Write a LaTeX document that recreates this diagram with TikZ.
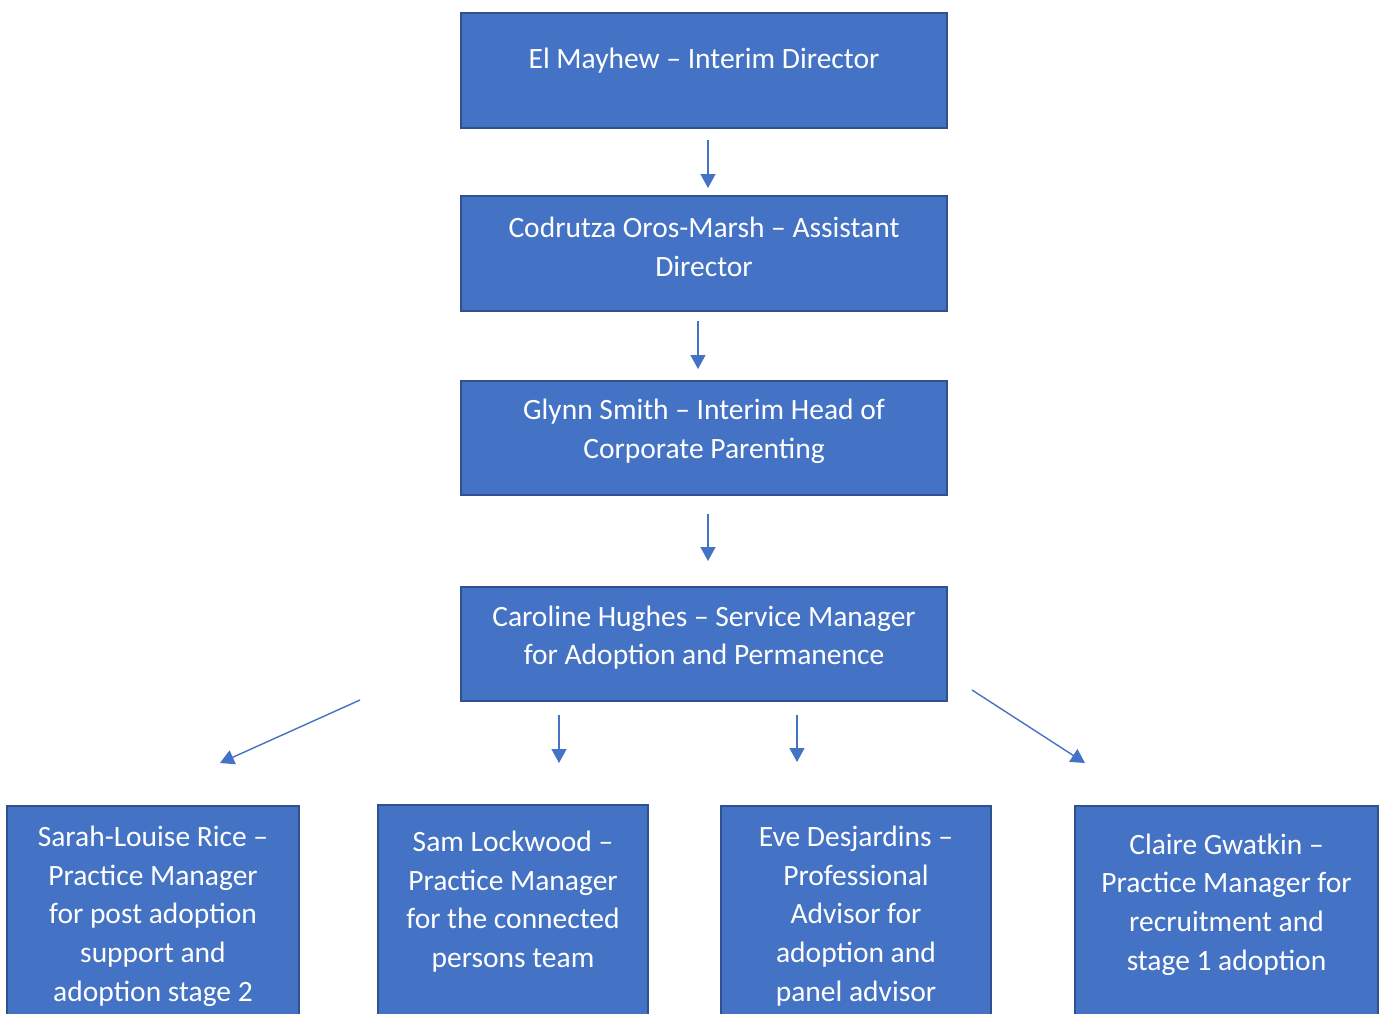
\documentclass[tikz,border=0pt]{standalone}
\usepackage{fontspec}
\setmainfont{Carlito}
\usetikzlibrary{arrows.meta}
\definecolor{boxfill}{HTML}{4472C4}
\definecolor{boxline}{HTML}{2F528F}
\tikzset{
  orgbox/.style={draw=boxline, line width=2pt, fill=boxfill, rectangle, inner sep=0pt},
  orgtext/.style={text=white, align=center, inner sep=0pt, font=\fontsize{29.5}{38.7}\selectfont},
  link/.style={draw=boxfill, line width=1.4pt, -{Triangle[length=14pt,width=15pt]}}
}
\begin{document}
\begin{tikzpicture}[x=1pt,y=-1pt]
\useasboundingbox (0,0) rectangle (1381,1013);
\clip (0,0) rectangle (1381,1013);
% boxes
\node[orgbox, minimum width=486pt, minimum height=115pt] (b1) at (704,70.5) {};
\node[orgbox, minimum width=486pt, minimum height=115pt] (b2) at (704,253.5) {};
\node[orgbox, minimum width=486pt, minimum height=114pt] (b3) at (704,438) {};
\node[orgbox, minimum width=486pt, minimum height=114pt] (b4) at (704,644) {};
\node[orgbox, minimum width=292pt, minimum height=230pt] (c1) at (153,921) {};
\node[orgbox, minimum width=270pt, minimum height=230pt] (c2) at (513,920) {};
\node[orgbox, minimum width=270pt, minimum height=230pt] (c3) at (856,921) {};
\node[orgbox, minimum width=303pt, minimum height=230pt] (c4) at (1226.5,921) {};
% texts
\node[orgtext] (t1) at (704,61) {El Mayhew -- Interim Director};
\node[orgtext] (t2) at (704,247) {Codrutza Oros-Marsh -- Assistant\\Director};
\node[orgtext] (t3) at (704,431) {Glynn Smith -- Interim Head of\\Corporate Parenting};
\node[orgtext] (t4) at (704,637.5) {Caroline Hughes -- Service Manager\\for Adoption and Permanence};
\node[orgtext] (u1) at (153,916) {Sarah-Louise Rice --\\Practice Manager\\for post adoption\\support and\\adoption stage 2};
\node[orgtext] (u2) at (513,901.5) {Sam Lockwood --\\Practice Manager\\for the connected\\persons team};
\node[orgtext] (u3) at (856,916) {Eve Desjardins --\\Professional\\Advisor for\\adoption and\\panel advisor};
\node[orgtext] (u4) at (1226.5,904.5) {Claire Gwatkin --\\Practice Manager for\\recruitment and\\stage 1 adoption};
% arrow end points
\coordinate (a1s) at (708,140); \coordinate (a1e) at (708,188);
\coordinate (a2s) at (698,321); \coordinate (a2e) at (698,369);
\coordinate (a3s) at (708,514); \coordinate (a3e) at (708,561);
\coordinate (a4s) at (360,700); \coordinate (a4e) at (220,763);
\coordinate (a5s) at (559,715); \coordinate (a5e) at (559,763);
\coordinate (a6s) at (797,715); \coordinate (a6e) at (797,762);
\coordinate (a7s) at (972,690); \coordinate (a7e) at (1085,763);
\draw[link] (a1s) -- (a1e);
\draw[link] (a2s) -- (a2e);
\draw[link] (a3s) -- (a3e);
\draw[link] (a4s) -- (a4e);
\draw[link] (a5s) -- (a5e);
\draw[link] (a6s) -- (a6e);
\draw[link] (a7s) -- (a7e);
\end{tikzpicture}
\end{document}
